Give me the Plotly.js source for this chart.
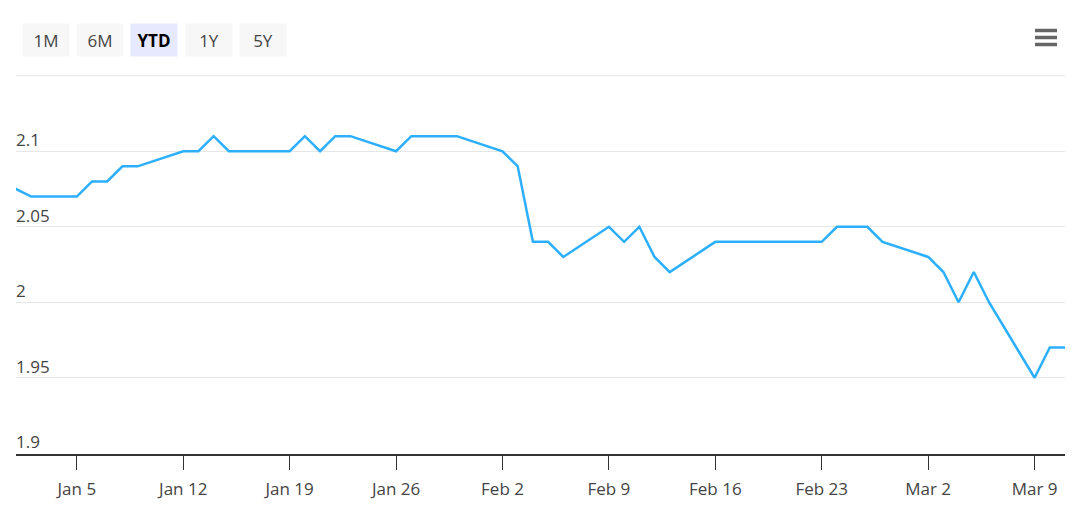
<!DOCTYPE html>
<html>
<head>
<meta charset="utf-8">
<script src="https://cdn.plot.ly/plotly-3.0.1.min.js"></script>
<style>
  html, body { margin: 0; padding: 0; background: #fff; }
  #chart { width: 1092px; height: 530px; }
</style>
</head>
<body>
<div id="chart"></div>
<script>
// trading days (Dec 31 sits just left of the visible range)
const dates = [
  '2025-12-31', '2026-01-02',
  '2026-01-05', '2026-01-06', '2026-01-07', '2026-01-08', '2026-01-09',
  '2026-01-12', '2026-01-13', '2026-01-14', '2026-01-15', '2026-01-16',
  '2026-01-19', '2026-01-20', '2026-01-21', '2026-01-22', '2026-01-23',
  '2026-01-26', '2026-01-27', '2026-01-28', '2026-01-29', '2026-01-30',
  '2026-02-02', '2026-02-03', '2026-02-04', '2026-02-05', '2026-02-06',
  '2026-02-09', '2026-02-10', '2026-02-11', '2026-02-12', '2026-02-13',
  '2026-02-16', '2026-02-17', '2026-02-18', '2026-02-19', '2026-02-20',
  '2026-02-23', '2026-02-24', '2026-02-25', '2026-02-26', '2026-02-27',
  '2026-03-02', '2026-03-03', '2026-03-04', '2026-03-05', '2026-03-06',
  '2026-03-09', '2026-03-10', '2026-03-11'
]
const values = [
  2.08, 2.07,
  2.07, 2.08, 2.08, 2.09, 2.09,
  2.10, 2.10, 2.11, 2.10, 2.10,
  2.10, 2.11, 2.10, 2.11, 2.11,
  2.10, 2.11, 2.11, 2.11, 2.11,
  2.10, 2.09, 2.04, 2.04, 2.03,
  2.05, 2.04, 2.05, 2.03, 2.02,
  2.04, 2.04, 2.04, 2.04, 2.04,
  2.04, 2.05, 2.05, 2.05, 2.04,
  2.03, 2.02, 2.00, 2.02, 2.00,
  1.95, 1.97, 1.97
]
const xRange = ['2026-01-01', '2026-03-11']
const xTicks = ['2026-01-05', '2026-01-12', '2026-01-19', '2026-01-26', '2026-02-02',
  '2026-02-09', '2026-02-16', '2026-02-23', '2026-03-02', '2026-03-09']
const xTickText = ['Jan 5', 'Jan 12', 'Jan 19', 'Jan 26', 'Feb 2', 'Feb 9', 'Feb 16', 'Feb 23', 'Mar 2', 'Mar 9']
const yRange = [1.8995, 2.1505]
const yTicks = [1.9, 1.95, 2, 2.05, 2.1]
const yTickText = ['1.9', '1.95', '2', '2.05', '2.1']
const yTopGrid = 2.15
const buttonLabels = ['1M', '6M', 'YTD', '1Y', '5Y']
const activeButton = 'YTD'

// plot area in pixels, used to place the buttons and menu icon
const W = 1092
const H = 530
const margin = { l: 16, r: 27, t: 75, b: 76 }
const plotW = W - margin.l - margin.r
const plotH = H - margin.t - margin.b
const px = (x) => (x - margin.l) / plotW
const py = (y) => (H - margin.b - y) / plotH

const annotations = buttonLabels.map((label, i) => {
  const active = label === activeButton
  return {
    xref: 'paper',
    yref: 'paper',
    x: px(45.5 + i * 54.4),
    y: py(40),
    xanchor: 'center',
    yanchor: 'middle',
    showarrow: false,
    text: active ? '<b>' + label + '</b>' : label,
    width: 46,
    height: 32,
    borderpad: 0,
    bgcolor: active ? '#e6e9ff' : '#f7f7f7',
    font: { family: 'Open Sans, sans-serif', size: 17, color: active ? '#000' : '#444' }
  }
})

// hamburger menu, three bars
const shapes = [30.5, 37.5, 44.5].map((y) => ({
  type: 'line',
  xref: 'paper',
  yref: 'paper',
  x0: px(1035),
  x1: px(1057),
  y0: py(y),
  y1: py(y),
  line: { color: '#666', width: 3.5 }
}))
// unlabelled top grid line
shapes.push({
  type: 'line',
  xref: 'paper',
  yref: 'y',
  x0: 0,
  x1: 1,
  y0: yTopGrid,
  y1: yTopGrid,
  layer: 'below',
  line: { color: '#e6e6e6', width: 1 }
})

const trace = {
  x: dates,
  y: values,
  type: 'scatter',
  mode: 'lines',
  line: { color: '#2caffe', width: 2.5 },
  hoverinfo: 'x+y'
}

const layout = {
  width: W,
  height: H,
  margin: margin,
  paper_bgcolor: '#fff',
  plot_bgcolor: '#fff',
  showlegend: false,
  font: { family: 'Open Sans, sans-serif', color: '#333' },
  xaxis: {
    type: 'date',
    range: xRange,
    tickvals: xTicks,
    ticktext: xTickText,
    showgrid: false,
    zeroline: false,
    showline: true,
    linecolor: '#333',
    linewidth: 1.5,
    ticks: 'outside',
    ticklen: 14,
    tickcolor: '#333',
    tickwidth: 1,
    tickfont: { size: 17, color: '#444' },
    ticklabelstandoff: 5
  },
  yaxis: {
    range: yRange,
    tickvals: yTicks,
    ticktext: yTickText,
    showgrid: true,
    gridcolor: '#e6e6e6',
    gridwidth: 1,
    zeroline: false,
    showline: false,
    ticks: '',
    ticklabelposition: 'inside',
    ticklabelshift: -11,
    ticklabelstandoff: -3,
    tickfont: { size: 17, color: '#444' }
  },
  annotations: annotations,
  shapes: shapes
}

Plotly.newPlot('chart', [trace], layout, { displayModeBar: false, staticPlot: false })
</script>
</body>
</html>
